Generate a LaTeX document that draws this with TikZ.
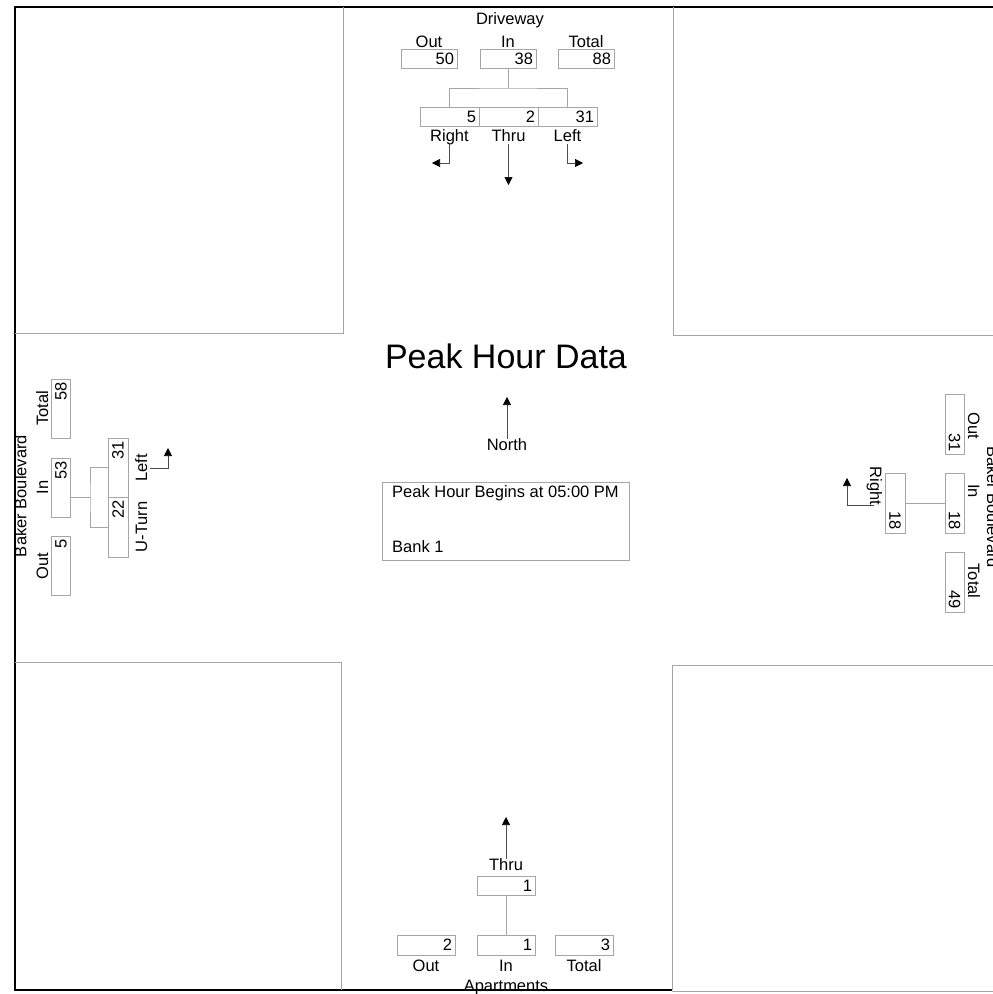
\documentclass[tikz,border=0pt]{standalone}
\usepackage{fontspec}
\setmainfont{Liberation Sans}
\usetikzlibrary{arrows.meta}

\begin{document}
\begin{tikzpicture}[x=1pt,y=-1pt,
	lbl/.style={font=\fontsize{16.5}{19}\selectfont,inner sep=0pt,text height=11pt,text depth=3pt},
	cnt/.style={draw=gray!70,line width=0.6pt,font=\fontsize{16.5}{19}\selectfont,text width=#1,align=right,inner xsep=3pt,inner ysep=0pt,minimum height=19pt},
	link/.style={draw=gray!70,line width=0.6pt},
	arr/.style={draw=gray!60!black,line width=0.6pt,-{Triangle[length=8pt,width=8pt,color=black]}}]
	\useasboundingbox (0,0) rectangle (993,994);
	% marco
	\draw[line width=2.5pt] (993,7) -- (15,7) -- (15,990) -- (672,990);
	\draw[link] (672,991) -- (993,991);
	% esquinas
	\draw[link] (15,333) -- (343,333) -- (343,7);
	\draw[link] (673,7) -- (673,335) -- (993,335);
	\draw[link] (15,662) -- (341,662) -- (341,990);
	\draw[link] (672,990) -- (672,665) -- (993,665);
	% Driveway
	\node[lbl] (drv) at (510,20) {Driveway};
	\foreach \Nm/\Xc/\Txt/\Val in
	{outN/429/Out/50,inN/508/In/38,totN/586/Total/88}
	{
		\node[cnt=50pt] (\Nm) at (\Xc,58.5) {\Val};
		\node[lbl] (\Nm-l) at (\Xc,43) {\Txt};
	}
	\foreach \Nm/\Xc/\Txt/\Val in
	{rgtN/449.5/Right/5,thrN/508.5/Thru/2,lftN/567.5/Left/31}
	{
		\node[cnt=53pt] (\Nm) at (\Xc,116.5) {\Val};
		\node[lbl] (\Nm-l) at (\Xc,137) {\Txt};
	}
	\coordinate (nJ) at (508,88);
	\draw[link] (inN.south) -- (nJ);
	\draw[link] (rgtN.north) |- (nJ) -| (lftN.north);
	\coordinate (rgtN-e) at (432,163);
	\coordinate (thrN-e) at (508.5,185);
	\coordinate (lftN-e) at (583,163);
	\draw[arr] (rgtN-l.south) |- (rgtN-e);
	\draw[arr] (thrN-l.south) -- (thrN-e);
	\draw[arr] (lftN-l.south) |- (lftN-e);
	% Apartments
	\foreach \Nm/\Xc/\Txt/\Val in
	{outS/426/Out/2,inS/506/In/1,totS/584/Total/3}
	{
		\node[cnt=52pt,minimum height=20pt] (\Nm) at (\Xc,945) {\Val};
		\node[lbl] (\Nm-l) at (\Xc,967) {\Txt};
	}
	\node[cnt=52pt] (thrS) at (506,885.5) {1};
	\node[lbl] (thrS-l) at (506,866) {Thru};
	\node[lbl] (apt) at (506,987) {Apartments};
	\draw[link] (thrS.south) -- (inS.north);
	\coordinate (thrS-e) at (506,817);
	\draw[arr] (thrS-l.north) -- (thrS-e);
	% Baker Boulevard (oeste)
	\node[lbl,rotate=90] (bkrW) at (22.5,496) {Baker Boulevard};
	\foreach \Nm/\Yc/\Txt/\Val in
	{totW/408.5/Total/58,inW/487.5/In/53,outW/566/Out/5}
	{
		\node[cnt=53pt,rotate=90] (\Nm) at (61,\Yc) {\Val};
		\node[lbl,rotate=90] (\Nm-l) at (44,\Yc) {\Txt};
	}
	\node[cnt=53pt,rotate=90,minimum height=20pt] (lftW) at (118,467.5) {31};
	\node[cnt=54pt,rotate=90,minimum height=20pt] (utnW) at (118,527) {22};
	\node[lbl,rotate=90] (lftW-l) at (143,468) {Left};
	\node[lbl,rotate=90] (utnW-l) at (143,527) {U-Turn};
	\coordinate (wJ) at (90,497);
	\draw[link] (inW.south |- wJ) -- (wJ);
	\draw[link] (lftW.north) -| (wJ) |- (utnW.north);
	\coordinate (lftW-e) at (168,448);
	\draw[arr] (lftW-l.south) -| (lftW-e);
	% Baker Boulevard (este)
	\node[lbl,rotate=-90] (bkrE) at (991,507) {Baker Boulevard};
	\foreach \Nm/\Yc/\Ly/\Txt/\Val in
	{outE/424.5/426/Out/31,inE/503/491/In/18,totE/582/581/Total/49}
	{
		\node[cnt=54pt,rotate=-90] (\Nm) at (954.5,\Yc) {\Val};
		\node[lbl,rotate=-90] (\Nm-l) at (972,\Ly) {\Txt};
	}
	\node[cnt=54pt,rotate=-90,minimum height=20pt] (rgtE) at (895,503) {18};
	\node[lbl,rotate=-90] (rgtE-l) at (874,486) {Right};
	\draw[link] (inE.south) -- (rgtE.north);
	\coordinate (rgtE-e) at (847,478);
	\draw[arr] (rgtE-l.east) -| (rgtE-e);
	% centro
	\node[font=\fontsize{34}{40}\selectfont,inner sep=0pt] (ttl) at (506,356) {Peak Hour Data};
	\node[lbl] (nrt) at (507,446) {North};
	\coordinate (nrt-e) at (507,397);
	\draw[arr] (nrt.north) -- (nrt-e);
	\node[link,minimum width=247pt,minimum height=78pt] (info) at (505.5,521) {};
	\node[lbl,anchor=west] (info-a) at (392,493) {Peak Hour Begins at 05:00 PM};
	\node[lbl,anchor=west] (info-b) at (392,548) {Bank 1};
\end{tikzpicture}
\end{document}
